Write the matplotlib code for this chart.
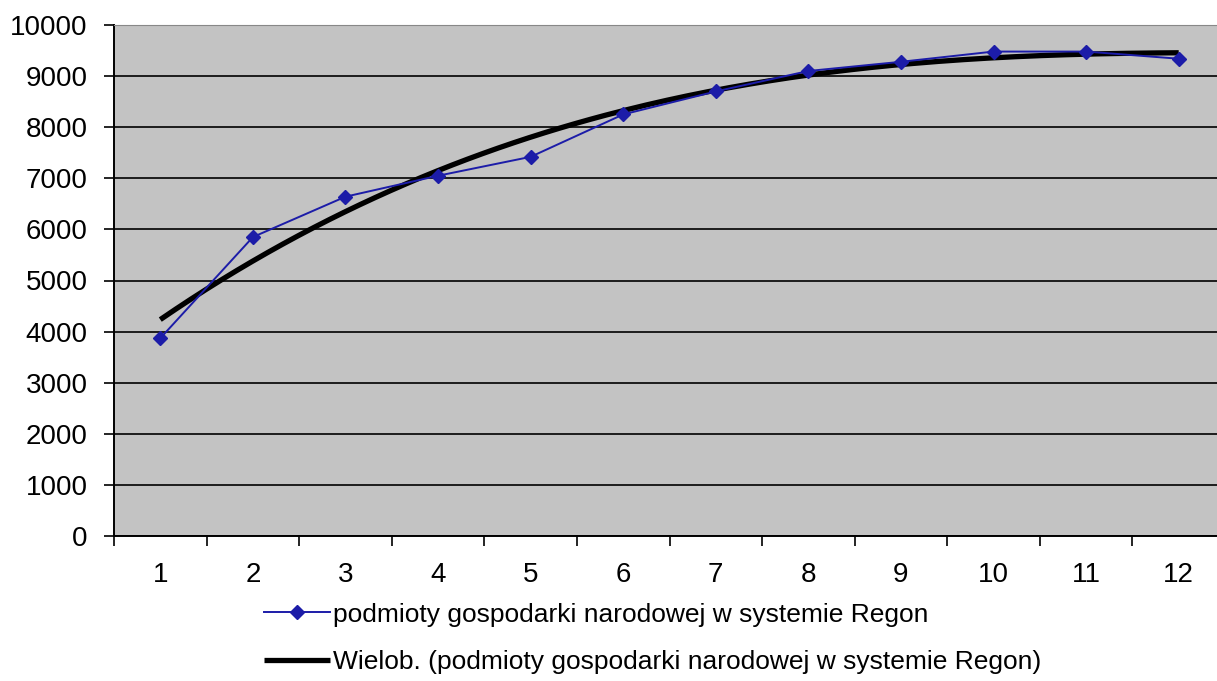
import numpy as np
import matplotlib.pyplot as plt

plt.rcParams['font.family'] = ['Liberation Sans', 'DejaVu Sans']

months = np.arange(1, 13)
regon = [3870, 5850, 6640, 7050, 7420, 8250, 8700, 9100, 9280, 9480, 9480, 9340]
label_data = "podmioty gospodarki narodowej w systemie Regon"
label_trend = "Wielob. (podmioty gospodarki narodowej w systemie Regon)"

fig = plt.figure(figsize=(12.17, 6.81), dpi=100)
ax = fig.add_axes([114/1217, 145/681, 1111/1217, 511/681])
ax.set_facecolor("#c3c3c3")

# polynomial trend line, like the spreadsheet's "Wielob."
coef = np.polyfit(months, regon, 3)
xs = np.linspace(1, 12, 200)
ax.plot(xs, np.polyval(coef, xs), color="black", lw=3.8, zorder=3,
        solid_capstyle="butt", label=label_trend)
ax.plot(months, regon, color="#1c1ca8", lw=1.4, marker="D", ms=7,
        zorder=4, label=label_data)

ax.set_xlim(0.5, 12.5)
ax.set_ylim(0, 10000)
ax.set_yticks(range(0, 10001, 1000))
ax.yaxis.grid(True, color="black", lw=1.2)
ax.set_axisbelow(True)

ax.set_xticks(np.arange(0.5, 12.5, 1))
ax.set_xticks(months, minor=True)
ax.set_xticklabels([])
ax.set_xticklabels([str(m) for m in months], minor=True)
ax.tick_params(axis="x", which="major", length=7, width=1.2, direction="out")
ax.tick_params(axis="x", which="minor", length=0, pad=19, labelsize=20)
ax.tick_params(axis="y", length=7, width=1.2, direction="out", pad=12, labelsize=20)

for s in ["left", "bottom"]:
    ax.spines[s].set_linewidth(1.4)
ax.spines["top"].set_color("#888888")
ax.spines["right"].set_visible(False)

h, l = ax.get_legend_handles_labels()
fig.legend(h[::-1], l[::-1], loc="upper left", bbox_to_anchor=(253/1217, 1 - 592/681),
           frameon=False, fontsize=19, handlelength=2.5, handletextpad=0.15,
           labelspacing=0.9, borderaxespad=0)

fig.savefig("out.png", dpi=100)
